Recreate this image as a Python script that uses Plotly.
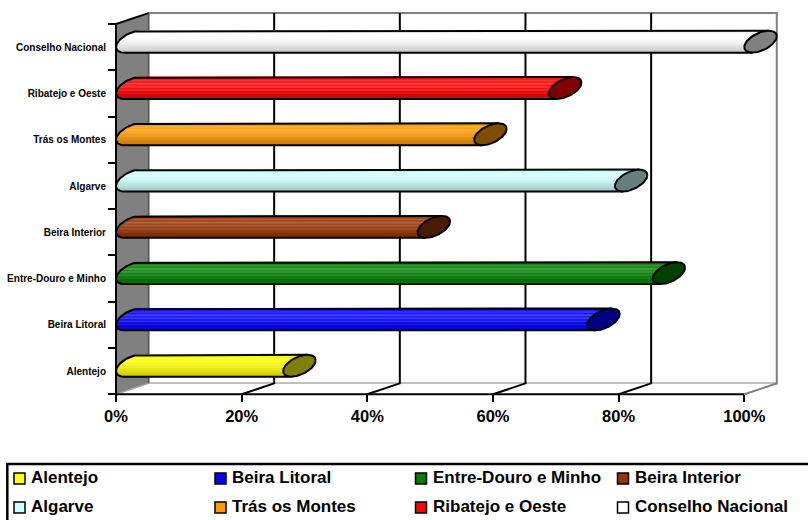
import numpy as np
import plotly.graph_objects as go

# ---- data -------------------------------------------------------------
regions = ["Alentejo", "Beira Litoral", "Entre-Douro e Minho", "Beira Interior",
           "Algarve", "Trás os Montes", "Ribatejo e Oeste", "Conselho Nacional"]
values = [26.6, 75.0, 85.4, 48.0, 79.4, 57.0, 68.9, 100.0]
colors = ["#FFFF00", "#0000FF", "#008000", "#993300",
          "#CCFFFF", "#FF9900", "#FF0000", "#FFFFFF"]
x_ticks = [0, 20, 40, 60, 80, 100]
x_tick_labels = ["0%", "20%", "40%", "60%", "80%", "100%"]

# ---- layout geometry (pixels) -------------------------------------------
W, H = 808, 520
X0_PX, SX = 116.0, 6.283          # x = 0 position, pixels per percent
Y0_PX, SY = 394.3, 46.29          # y = -0.5 position, pixels per category
PL, PR, PT, PB = 113, 780, 10, 397  # plot-area box

DX = 32.5 / SX     # depth of the 3-D box along x (data units)
DY = 10.9 / SY     # depth of the 3-D box along y (data units)
RV = 9.5 / SY      # vertical radius of the cylinders

FONT = "Liberation Sans, Arial, sans-serif"

x_range = [(PL - X0_PX) / SX, (PR - X0_PX) / SX]
y_range = [-0.5 - (PB - Y0_PX) / SY, -0.5 + (Y0_PX - PT) / SY]


def paper_x(px):
    return (px - PL) / (PR - PL)


def paper_y(py):
    return (PB - py) / (PB - PT)


def mix(hex_color, tint=0.0, shade=0.0):
    r, g, b = (int(hex_color[i:i + 2], 16) for i in (1, 3, 5))
    out = []
    for c in (r, g, b):
        c = c + (255 - c) * tint
        c = c * (1 - shade)
        out.append(int(round(min(255, max(0, c)))))
    return "rgb({},{},{})".format(*out)


fig = go.Figure()


def poly(xs, ys, fill, line_color="rgba(0,0,0,0)", width=0.0):
    fig.add_trace(go.Scatter(
        x=list(xs), y=list(ys), mode="lines",
        fill="toself", fillcolor=fill,
        line=dict(color=line_color, width=width),
        hoverinfo="skip", showlegend=False))


def line(xs, ys, color, width):
    fig.add_trace(go.Scatter(
        x=list(xs), y=list(ys), mode="lines",
        line=dict(color=color, width=width),
        hoverinfo="skip", showlegend=False))


y_floor, y_top = -0.5, len(regions) - 0.5
GRAY = "#808080"

# back wall
poly([DX, 100 + DX, 100 + DX, DX, DX],
     [y_floor + DY, y_floor + DY, y_top + DY, y_top + DY, y_floor + DY],
     "#FFFFFF", GRAY, 2)
# floor
poly([0, 100, 100 + DX, DX, 0],
     [y_floor, y_floor, y_floor + DY, y_floor + DY, y_floor], "#FFFFFF")
line([100, 100 + DX], [y_floor, y_floor + DY], GRAY, 2)

# gridlines on the back wall and their traces across the floor
for v in x_ticks[1:-1]:
    line([v, v + DX, v + DX], [y_floor, y_floor + DY, y_top + DY], "#000000", 2)

# side wall
poly([0, DX, DX, 0, 0],
     [y_floor, y_floor + DY, y_top + DY, y_top, y_floor], GRAY)
line([DX, DX], [y_floor + DY, y_top + DY], "#5a5a5a", 1.5)
line([0, DX], [y_floor, y_floor + DY], "#a6a6a6", 1.5)

# ---- cylinders ----------------------------------------------------------
t_top = np.arctan2(RV, DY / 2)


def ex(t):
    return DX / 2 * np.cos(t)


def ey(t):
    return DY / 2 * np.cos(t) + RV * np.sin(t)


band_tint = [0.00, 0.10, 0.22, 0.10, 0.30, 0.12, 0.25, 0.08, 0.20, 0.05, 0.12, 0.00, 0.05, 0.00]
band_shade = [0.10, 0.03, 0.00, 0.00, 0.00, 0.02, 0.03, 0.05, 0.07, 0.10, 0.12, 0.15, 0.18, 0.22]
NB = len(band_tint)
band_t = t_top + np.arccos(1 - 2 * np.arange(NB + 1) / NB)

for i, (v, col) in enumerate(zip(values, colors)):
    cy = i + DY / 2
    xl, xr = DX / 2, v + DX / 2
    arc = np.linspace(t_top, t_top + np.pi, 60)

    # body silhouette
    bx = np.concatenate([xl + ex(arc), (xr + ex(arc))[::-1]])
    by = np.concatenate([cy + ey(arc), (cy + ey(arc))[::-1]])
    poly(np.append(bx, bx[0]), np.append(by, by[0]), col)

    # shaded bands along the length
    for k in range(NB):
        ts = np.linspace(band_t[k], band_t[k + 1], 8)
        px = np.concatenate([xl + ex(ts), (xr + ex(ts))[::-1]])
        py = np.concatenate([cy + ey(ts), (cy + ey(ts))[::-1]])
        c = mix(col, band_tint[k], band_shade[k])
        poly(np.append(px, px[0]), np.append(py, py[0]), c, c, 0.6)

    # outline: top edge, rounded left end, bottom edge
    ox = np.concatenate([[xr + ex(t_top)], xl + ex(arc), [xr + ex(t_top + np.pi)]])
    oy = np.concatenate([[cy + ey(t_top)], cy + ey(arc), [cy + ey(t_top + np.pi)]])
    line(ox, oy, "#000000", 2)

    # end cap at the value
    tc = np.linspace(0, 2 * np.pi, 90)
    poly(xr + ex(tc), cy + ey(tc), mix(col, 0, 0.5), "#000000", 2)

# front axis lines
line([0, 100], [y_floor, y_floor], "#000000", 2)
line([0, 0, DX], [y_floor, y_top, y_top + DY], "#000000", 2)

# ---- legend (drawn in paper coordinates) ---------------------------------
shapes = [dict(type="rect", xref="paper", yref="paper",
               x0=paper_x(7.3), x1=paper_x(815), y0=paper_y(464), y1=paper_y(530),
               line=dict(color="#000000", width=2.5), fillcolor="rgba(0,0,0,0)")]
annotations = []
col_px = [19.5, 220.5, 421.0, 623.0]
row_px = [478.5, 507.5]
for j, (name, col) in enumerate(zip(regions, colors)):
    cx, cy = col_px[j % 4], row_px[j // 4]
    shapes.append(dict(type="rect", xref="paper", yref="paper",
                       x0=paper_x(cx - 5.5), x1=paper_x(cx + 5.5),
                       y0=paper_y(cy + 5.5), y1=paper_y(cy - 5.5),
                       line=dict(color="#000000", width=1.5), fillcolor=col))
    annotations.append(dict(text="<b>" + name + "</b>", xref="paper", yref="paper",
                            x=paper_x(cx + 9.5), y=paper_y(cy - 0.8),
                            xanchor="left", yanchor="middle", showarrow=False,
                            font=dict(family=FONT, size=17, color="#000000",
                                      weight="bold")))

fig.update_layout(
    width=W, height=H,
    margin=dict(l=PL, r=W - PR, t=PT, b=H - PB, pad=0, autoexpand=False),
    paper_bgcolor="#FFFFFF", plot_bgcolor="#FFFFFF",
    showlegend=False,
    shapes=shapes, annotations=annotations,
    xaxis=dict(range=x_range, anchor="free", position=(PB - Y0_PX) / (PB - PT),
               automargin=False,
               tickmode="array", tickvals=x_ticks, ticktext=x_tick_labels,
               ticks="outside", ticklen=7, tickwidth=2, tickcolor="#000000",
               tickfont=dict(family=FONT, size=16.5, color="#000000", weight="bold"),
               showgrid=False, zeroline=False, showline=False, fixedrange=True),
    yaxis=dict(range=y_range, anchor="free", position=(X0_PX - PL) / (PR - PL),
               automargin=False,
               tickmode="array", tickvals=list(range(len(regions))), ticktext=regions,
               ticks="outside", ticklen=8, tickcolor="rgba(0,0,0,0)",
               tickfont=dict(family=FONT, size=10, color="#000000", weight="bold"),
               minor=dict(tickmode="array",
                          tickvals=[k - 0.5 for k in range(len(regions) + 1)],
                          ticks="outside", ticklen=8, tickwidth=2, tickcolor="#000000"),
               showgrid=False, zeroline=False, showline=False, fixedrange=True),
)

fig.write_html("out.html")
